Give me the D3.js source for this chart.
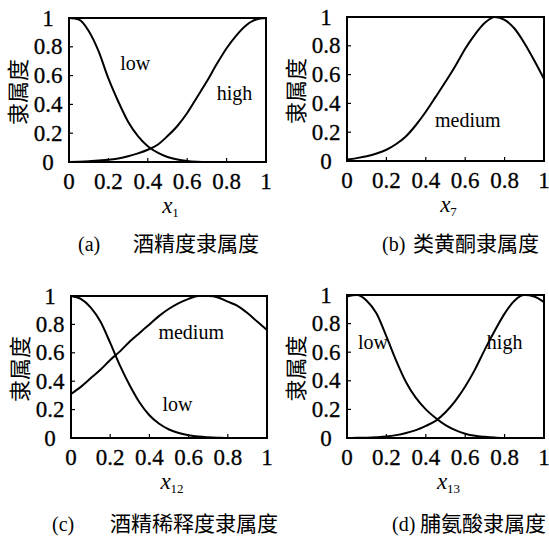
<!DOCTYPE html>
<html><head><meta charset="utf-8">
<script src="https://cdn.jsdelivr.net/npm/d3@7"></script>
<style>html,body{margin:0;padding:0;background:#fff;}</style>
</head><body>
<svg id="c" width="549" height="537"></svg>
<script>
const xs = [0,0.05,0.1,0.15,0.2,0.25,0.3,0.35,0.4,0.45,0.5,0.55,0.6,0.65,0.7,0.75,0.8,0.85,0.9,0.95,1.0];
const xTicks = [0,0.2,0.4,0.6,0.8,1];
const yTicks = [0,0.2,0.4,0.6,0.8,1];
const tickLabels = ["0","0.2","0.4","0.6","0.8","1"];

// (a) alcohol
const aLow  = [1.0,0.99,0.91,0.77,0.58,0.42,0.28,0.18,0.11,0.065,0.035,0.017,0.007,0.002,0,0,0,0,0,0,0];
const aHigh = [0,0.002,0.005,0.01,0.015,0.025,0.04,0.06,0.085,0.12,0.18,0.25,0.34,0.45,0.56,0.68,0.79,0.88,0.95,0.99,1.0];
// (b) flavonoids
const bMed  = [0.01,0.02,0.033,0.052,0.078,0.118,0.172,0.25,0.342,0.445,0.55,0.66,0.78,0.88,0.96,1.0,0.98,0.92,0.82,0.70,0.57];
// (c) OD dilution
const cLow  = [1.0,0.98,0.92,0.82,0.67,0.51,0.37,0.25,0.16,0.10,0.06,0.035,0.02,0.01,0.005,0.002,0,0,0,0,0];
const cMed  = [0.31,0.36,0.42,0.48,0.55,0.61,0.68,0.74,0.80,0.86,0.91,0.95,0.98,1.0,1.0,0.99,0.96,0.93,0.88,0.82,0.76];
// (d) proline
const dLow  = [0.99,1.0,0.96,0.87,0.71,0.54,0.39,0.28,0.20,0.14,0.09,0.055,0.03,0.015,0.008,0.003,0,0,0,0,0];
const dHigh = [0,0.001,0.002,0.005,0.01,0.02,0.035,0.055,0.085,0.12,0.18,0.26,0.36,0.48,0.62,0.75,0.87,0.96,1.0,0.99,0.95];

const yTitle = "隶属度";
const panels = [
  {box:[69,266,18,162], sub:"1", cap:"(a)", capText:"酒精度隶属度", capX:78, capTX:133, capY:251,
   series:[aLow,aHigh], labels:[{t:"low",x:0.26,y:0.64},{t:"high",x:0.75,y:0.43}]},
  {box:[347,544,17,161], sub:"7", cap:"(b)", capText:"类黄酮隶属度", capX:382, capTX:413, capY:251,
   series:[bMed], labels:[{t:"medium",x:0.447,y:0.236}]},
  {box:[71,267,296,438], sub:"12", cap:"(c)", capText:"酒精稀释度隶属度", capX:52, capTX:110, capY:531,
   series:[cLow,cMed], labels:[{t:"medium",x:0.446,y:0.70},{t:"low",x:0.467,y:0.19}]},
  {box:[347,544,295,438], sub:"13", cap:"(d)", capText:"脯氨酸隶属度", capX:392, capTX:420, capY:531,
   series:[dLow,dHigh], labels:[{t:"low",x:0.056,y:0.62},{t:"high",x:0.71,y:0.62}]}
];

const svg = d3.select("#c");
const serif = "'Liberation Serif','DejaVu Serif',serif";
const cjk = "'Noto Sans CJK SC','Noto Sans CJK JP',sans-serif";

panels.forEach(p => {
  const [l,r,t,b] = p.box;
  const x = d3.scaleLinear().domain([0,1]).range([l,r]);
  const y = d3.scaleLinear().domain([0,1]).range([b,t]);
  const g = svg.append("g");

  const line = d3.line().x((d,i)=>x(xs[i])).y(d=>y(d)).curve(d3.curveMonotoneX);
  p.series.forEach(s => {
    g.append("path").attr("d", line(s)).attr("fill","none")
     .attr("stroke","#000").attr("stroke-width",2);
  });

  g.append("rect").attr("x",l).attr("y",t).attr("width",r-l).attr("height",b-t)
   .attr("fill","none").attr("stroke","#000").attr("stroke-width",2);

  xTicks.slice(1,-1).forEach(v => {
    g.append("line").attr("x1",x(v)).attr("x2",x(v)).attr("y1",b).attr("y2",b-4)
     .attr("stroke","#000").attr("stroke-width",1.2);
  });
  yTicks.slice(1,-1).forEach(v => {
    g.append("line").attr("x1",l).attr("x2",l+4).attr("y1",y(v)).attr("y2",y(v))
     .attr("stroke","#000").attr("stroke-width",1.2);
  });

  xTicks.forEach((v,i) => {
    g.append("text").attr("x",x(v)).attr("y",b+27).attr("text-anchor","middle")
     .attr("font-family",serif).attr("font-size",23).attr("stroke","#000").attr("stroke-width",0.3)
     .text(tickLabels[i]);
  });
  yTicks.forEach((v,i) => {
    g.append("text").attr("x",l-21).attr("y",y(v)+7.5).attr("text-anchor","middle")
     .attr("font-family",serif).attr("font-size",23).attr("stroke","#000").attr("stroke-width",0.3)
     .text(tickLabels[i]);
  });

  g.append("text").attr("transform",`translate(${l-43},${(t+b)/2+2}) rotate(-90)`)
   .attr("text-anchor","middle").attr("font-family",cjk).attr("font-size",22).text(yTitle);

  const xt = g.append("text").attr("x",(l+r)/2+3).attr("y",b+51).attr("text-anchor","middle")
   .attr("font-family",serif).attr("font-size",23);
  xt.append("tspan").attr("font-style","italic").text("x");
  xt.append("tspan").attr("font-size",13).attr("dy",4).text(p.sub);

  p.labels.forEach(lb => {
    g.append("text").attr("x",x(lb.x)).attr("y",y(lb.y)).attr("font-family",serif)
     .attr("font-size",20).text(lb.t);
  });

  g.append("text").attr("x",p.capX).attr("y",p.capY).attr("font-family",serif)
   .attr("font-size",20).text(p.cap);
  g.append("text").attr("x",p.capTX).attr("y",p.capY).attr("font-family",cjk)
   .attr("font-size",21).text(p.capText);
});
</script>
</body></html>
